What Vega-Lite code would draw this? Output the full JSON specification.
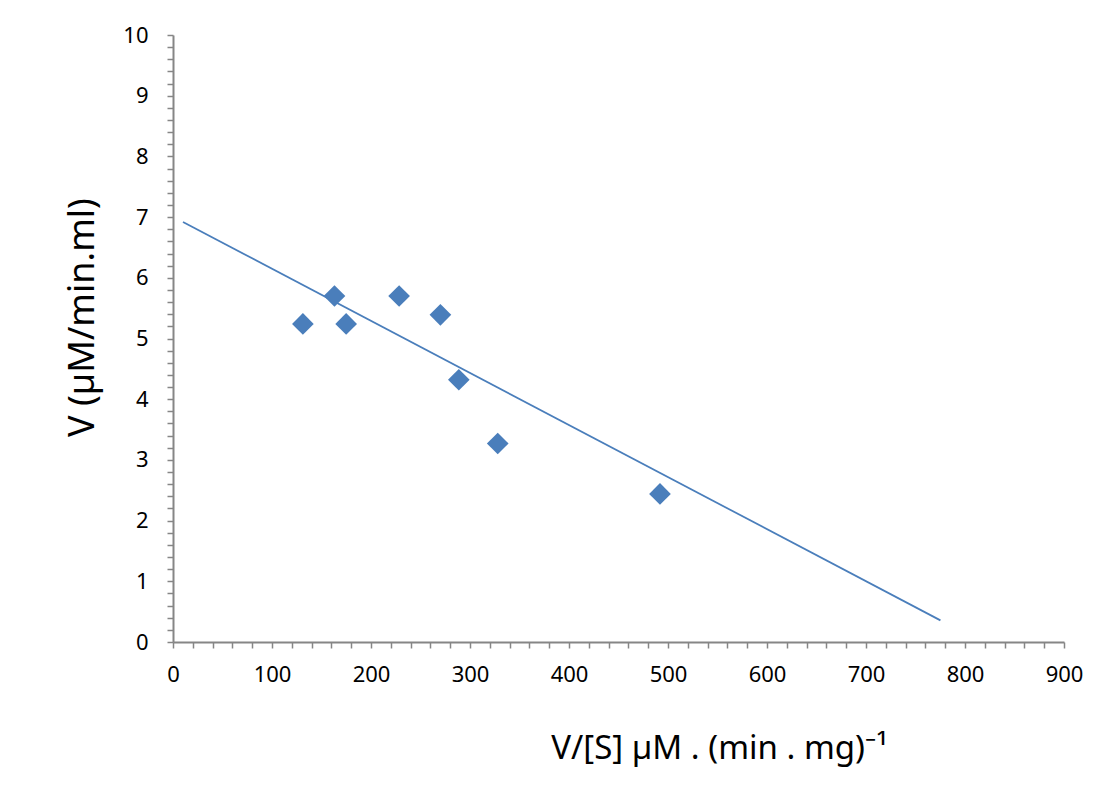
{
  "$schema": "https://vega.github.io/schema/vega-lite/v6.json",
  "width": 891,
  "height": 607,
  "autosize": {"type": "none"},
  "padding": {"left": 173, "top": 35, "right": 43, "bottom": 149},
  "background": "white",
  "config": {
    "view": {"stroke": null}
  },
  "datasets": {
    "points": [
      {"vs": 131.2, "v": 5.24},
      {"vs": 163.1, "v": 5.70},
      {"vs": 174.9, "v": 5.24},
      {"vs": 228.4, "v": 5.70},
      {"vs": 270.1, "v": 5.39},
      {"vs": 288.7, "v": 4.32},
      {"vs": 328.0, "v": 3.27},
      {"vs": 491.9, "v": 2.44}
    ],
    "fit": [
      {"vs": 10.1, "v": 6.92},
      {"vs": 775.2, "v": 0.356}
    ]
  },
  "encoding": {
    "x": {
      "field": "vs", "type": "quantitative",
      "scale": {"domain": [0, 900], "nice": false, "zero": false},
      "axis": {
        "grid": false,
        "domainColor": "#868686",
        "domainWidth": 2,
        "tickColor": "#868686",
        "tickWidth": 1.5,
        "tickSize": 6,
        "labelColor": "#000000",
        "labelFont": "Noto Sans",
        "labelFontSize": 22,
        "labelOverlap": false,
        "labelFlush": false,
        "titleColor": "#000000",
        "titleFont": "Noto Sans",
        "titleFontWeight": "normal",
        "title": "V/[S] µM . (min . mg)⁻¹",
        "titleFontSize": 33,
        "titleX": 546,
        "titleY": 116,
        "titleBaseline": "alphabetic",
        "titleAnchor": "middle",
        "labelPadding": 16,
        "values": [0,20,40,60,80,100,120,140,160,180,200,220,240,260,280,300,320,340,360,380,400,420,440,460,480,500,520,540,560,580,600,620,640,660,680,700,720,740,760,780,800,820,840,860,880,900],
        "labelExpr": "datum.value % 100 == 0 ? datum.label : ''"
      }
    },
    "y": {
      "field": "v", "type": "quantitative",
      "scale": {"domain": [0, 10], "nice": false, "zero": false},
      "axis": {
        "grid": false,
        "domainColor": "#868686",
        "domainWidth": 2,
        "tickColor": "#868686",
        "tickWidth": 1.5,
        "tickSize": 6,
        "labelColor": "#000000",
        "labelFont": "Noto Sans",
        "labelFontSize": 22,
        "labelOverlap": false,
        "labelFlush": false,
        "titleColor": "#000000",
        "titleFont": "Noto Sans",
        "titleFontWeight": "normal",
        "title": "V (µM/min.ml)",
        "titleFontSize": 36,
        "titleX": -80,
        "titleY": 282,
        "titleAngle": -90,
        "titleBaseline": "alphabetic",
        "titleAnchor": "middle",
        "labelPadding": 19,
        "values": [0,0.2,0.4,0.6,0.8,1,1.2,1.4,1.6,1.8,2,2.2,2.4,2.6,2.8,3,3.2,3.4,3.6,3.8,4,4.2,4.4,4.6,4.8,5,5.2,5.4,5.6,5.8,6,6.2,6.4,6.6,6.8,7,7.2,7.4,7.6,7.8,8,8.2,8.4,8.6,8.8,9,9.2,9.4,9.6,9.8,10],
        "labelExpr": "abs(datum.value - round(datum.value)) < 0.01 ? format(datum.value, 'd') : ''"
      }
    }
  },
  "layer": [
    {
      "data": {"name": "fit"},
      "mark": {"type": "line", "color": "#4A7EBB", "strokeWidth": 1.75, "clip": false}
    },
    {
      "data": {"name": "points"},
      "mark": {"type": "point", "shape": "diamond", "filled": true, "size": 470, "color": "#4A7EBB", "opacity": 1}
    }
  ]
}
